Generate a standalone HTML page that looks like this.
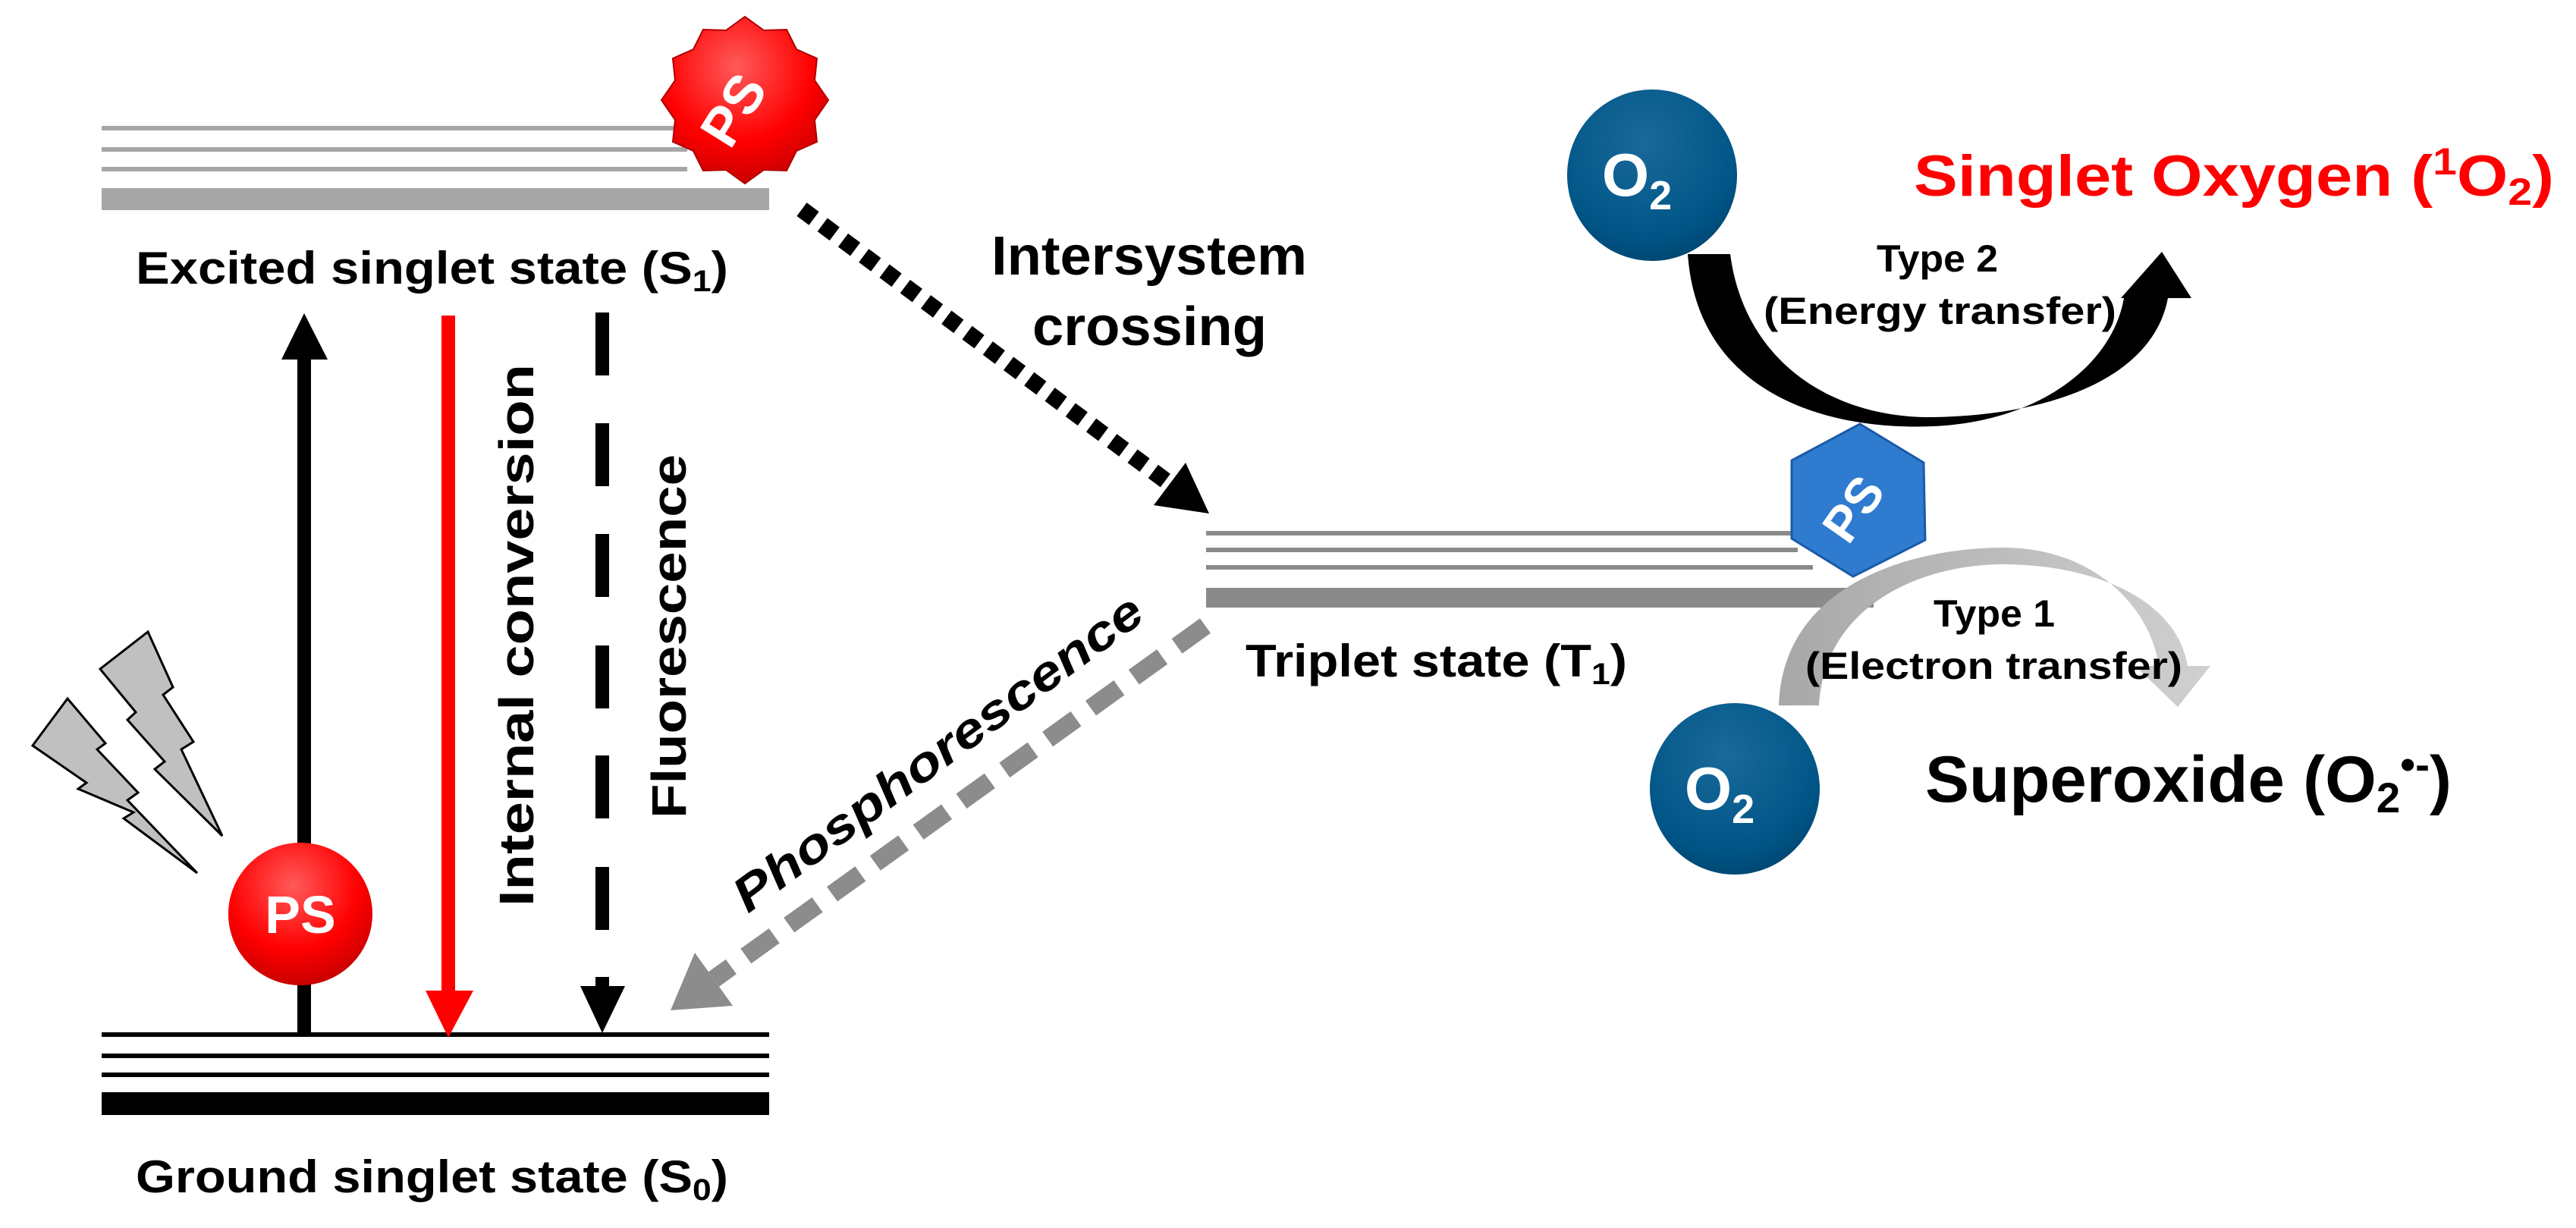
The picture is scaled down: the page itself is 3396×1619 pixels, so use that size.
<!DOCTYPE html>
<html><head><meta charset="utf-8"><style>
html,body{margin:0;padding:0;background:#fff;}
svg{display:block;}
text{font-family:"Liberation Sans",Arial,sans-serif;font-weight:bold;}
</style></head><body>
<svg width="3396" height="1619" viewBox="0 0 3396 1619" xmlns="http://www.w3.org/2000/svg">
<defs>
<radialGradient id="red" cx="0.45" cy="0.3" r="0.75"><stop offset="0" stop-color="#ff5a5a"/><stop offset="0.6" stop-color="#f00"/><stop offset="1" stop-color="#c00000"/></radialGradient>
<radialGradient id="blue" cx="0.45" cy="0.3" r="0.8"><stop offset="0" stop-color="#1a6a9a"/><stop offset="0.7" stop-color="#005587"/><stop offset="1" stop-color="#003f66"/></radialGradient>
<linearGradient id="gray" x1="0" y1="0" x2="1" y2="0"><stop offset="0" stop-color="#a8a8a8"/><stop offset="1" stop-color="#d0d0d0"/></linearGradient>
</defs>

<g fill="#a6a6a6">
<rect x="134" y="166" width="772" height="6"/>
<rect x="134" y="194" width="772" height="6"/>
<rect x="134" y="220" width="772" height="6"/>
<rect x="134" y="248" width="880" height="29"/>
</g>
<g fill="#000">
<rect x="134" y="1361" width="880" height="6"/>
<rect x="134" y="1389" width="880" height="6"/>
<rect x="134" y="1414" width="880" height="6"/>
<rect x="134" y="1440" width="880" height="30"/>
</g>
<g fill="#8a8a8a">
<rect x="1590" y="700" width="772" height="6"/>
<rect x="1590" y="722" width="780" height="6"/>
<rect x="1590" y="745" width="800" height="6"/>
<rect x="1590" y="775" width="880" height="26"/>
</g>

<rect x="392" y="470" width="18" height="894" fill="#000"/>
<polygon points="371,474 432,474 401,413" fill="#000"/>
<rect x="582" y="416" width="18" height="894" fill="#f00"/>
<polygon points="561,1306 624,1306 591,1368" fill="#f00"/>
<g fill="#000">
<rect x="785" y="412" width="18" height="83"/>
<rect x="785" y="558" width="18" height="83"/>
<rect x="785" y="704" width="18" height="83"/>
<rect x="785" y="851" width="18" height="83"/>
<rect x="785" y="996" width="18" height="83"/>
<rect x="785" y="1143" width="18" height="83"/>
<rect x="785" y="1288" width="18" height="20"/>
<polygon points="765,1300 824,1300 794,1362"/>
</g>

<line x1="1057" y1="276" x2="1545" y2="640" stroke="#000" stroke-width="22" stroke-dasharray="20 14"/>
<polygon points="1594,677 1521,666 1563,610" fill="#000"/>
<line x1="1589" y1="825" x2="941" y2="1291" stroke="#8c8c8c" stroke-width="24" stroke-dasharray="46 24"/>
<polygon points="884,1332 966,1326 916,1256" fill="#8c8c8c"/>

<g fill="#c0c0c0" stroke="#000" stroke-width="3" stroke-linejoin="miter">
<polygon points="195,833 228,906 215,916 255,978 239,988 293,1102 204,1014 217,1004 168,949 179,939 132,882"/>
<polygon points="89,921 139,980 128,988 182,1045 168,1055 260,1151 163,1079 176,1071 103,1040 114,1032 43,983"/>
</g>

<ellipse cx="396" cy="1205" rx="95" ry="94" fill="url(#red)"/>
<text x="396" y="1230" font-size="70" fill="#fff" text-anchor="middle">PS</text>

<polygon fill="url(#red)" stroke="#b00000" stroke-width="2" points="
1092,132 1074,158 1077,187 1050,199 1037,225 1007,224 982,242 957,224 927,225 914,199 887,187 890,158 872,132 890,106 887,77 914,65 927,39 957,40 982,22 1007,40 1037,39 1050,65 1077,77 1074,106"/>
<text x="0" y="0" font-size="72" fill="#fff" text-anchor="middle" transform="translate(988,158) rotate(-58)">PS</text>

<text x="179" y="374" font-size="60" textLength="781" lengthAdjust="spacingAndGlyphs">Excited singlet state (S<tspan font-size="40" dy="10">1</tspan><tspan dy="-10">)</tspan></text>
<text x="179" y="1572" font-size="60" textLength="781" lengthAdjust="spacingAndGlyphs">Ground singlet state (S<tspan font-size="40" dy="10">0</tspan><tspan dy="-10">)</tspan></text>
<text x="1307" y="362" font-size="72" textLength="416" lengthAdjust="spacingAndGlyphs">Intersystem</text>
<text x="1361" y="455" font-size="72" textLength="309" lengthAdjust="spacingAndGlyphs">crossing</text>
<text x="1642" y="892" font-size="60" textLength="503" lengthAdjust="spacingAndGlyphs">Triplet state (T<tspan font-size="40" dy="10">1</tspan><tspan dy="-10">)</tspan></text>

<text font-size="64" transform="translate(703,1195) rotate(-90)" textLength="715" lengthAdjust="spacingAndGlyphs">Internal conversion</text>
<text font-size="64" transform="translate(904,1079) rotate(-90)" textLength="480" lengthAdjust="spacingAndGlyphs">Fluorescence</text>
<text font-size="64" font-style="italic" transform="translate(986,1205) rotate(-36.5)" textLength="655" lengthAdjust="spacingAndGlyphs">Phosphorescence</text>

<path fill="#000" d="M2225,335 C2238,520 2410,568 2548,562 C2690,556 2785,480 2800,393 L2796,393 L2850,332 L2889,393 L2858,393 C2838,500 2700,548 2548,550 C2420,552 2300,480 2281,335 Z"/>
<path fill="url(#gray)" d="M2345,930 C2350,770 2520,722 2641,722 C2760,722 2835,800 2846,878 L2815,878 L2871,932 L2914,878 L2884,878 C2870,790 2760,744 2641,744 C2530,744 2405,800 2398,930 Z"/>

<text x="2554" y="358" font-size="50" text-anchor="middle" textLength="160" lengthAdjust="spacingAndGlyphs">Type 2</text>
<text x="2325" y="427" font-size="50" textLength="465" lengthAdjust="spacingAndGlyphs">(Energy transfer)</text>
<text x="2629" y="826" font-size="50" text-anchor="middle" textLength="160" lengthAdjust="spacingAndGlyphs">Type 1</text>
<text x="2380" y="895" font-size="50" textLength="497" lengthAdjust="spacingAndGlyphs">(Electron transfer)</text>

<polygon points="2452,559 2536,610 2538,712 2443,760 2362,710 2362,607" fill="#2f7bd0" stroke="#1a5aa8" stroke-width="3"/>
<text font-size="66" fill="#fff" text-anchor="middle" transform="translate(2462,684) rotate(-55)">PS</text>

<ellipse cx="2178" cy="231" rx="112" ry="113" fill="url(#blue)"/>
<text x="2158" y="258" font-size="80" fill="#fff" text-anchor="middle">O<tspan font-size="54" dy="18">2</tspan></text>
<ellipse cx="2287" cy="1040" rx="112" ry="113" fill="url(#blue)"/>
<text x="2267" y="1067" font-size="80" fill="#fff" text-anchor="middle">O<tspan font-size="54" dy="18">2</tspan></text>

<text x="2523" y="258" font-size="76" fill="#f00" textLength="844" lengthAdjust="spacingAndGlyphs">Singlet Oxygen (<tspan font-size="50" dy="-28">1</tspan><tspan dy="28">O</tspan><tspan font-size="50" dy="12">2</tspan><tspan dy="-12">)</tspan></text>
<text x="2538" y="1057" font-size="86" textLength="694" lengthAdjust="spacingAndGlyphs">Superoxide (O<tspan font-size="56" dy="14">2</tspan><tspan font-size="56" dy="-44">•-</tspan><tspan dy="30">)</tspan></text>
</svg>
</body></html>
